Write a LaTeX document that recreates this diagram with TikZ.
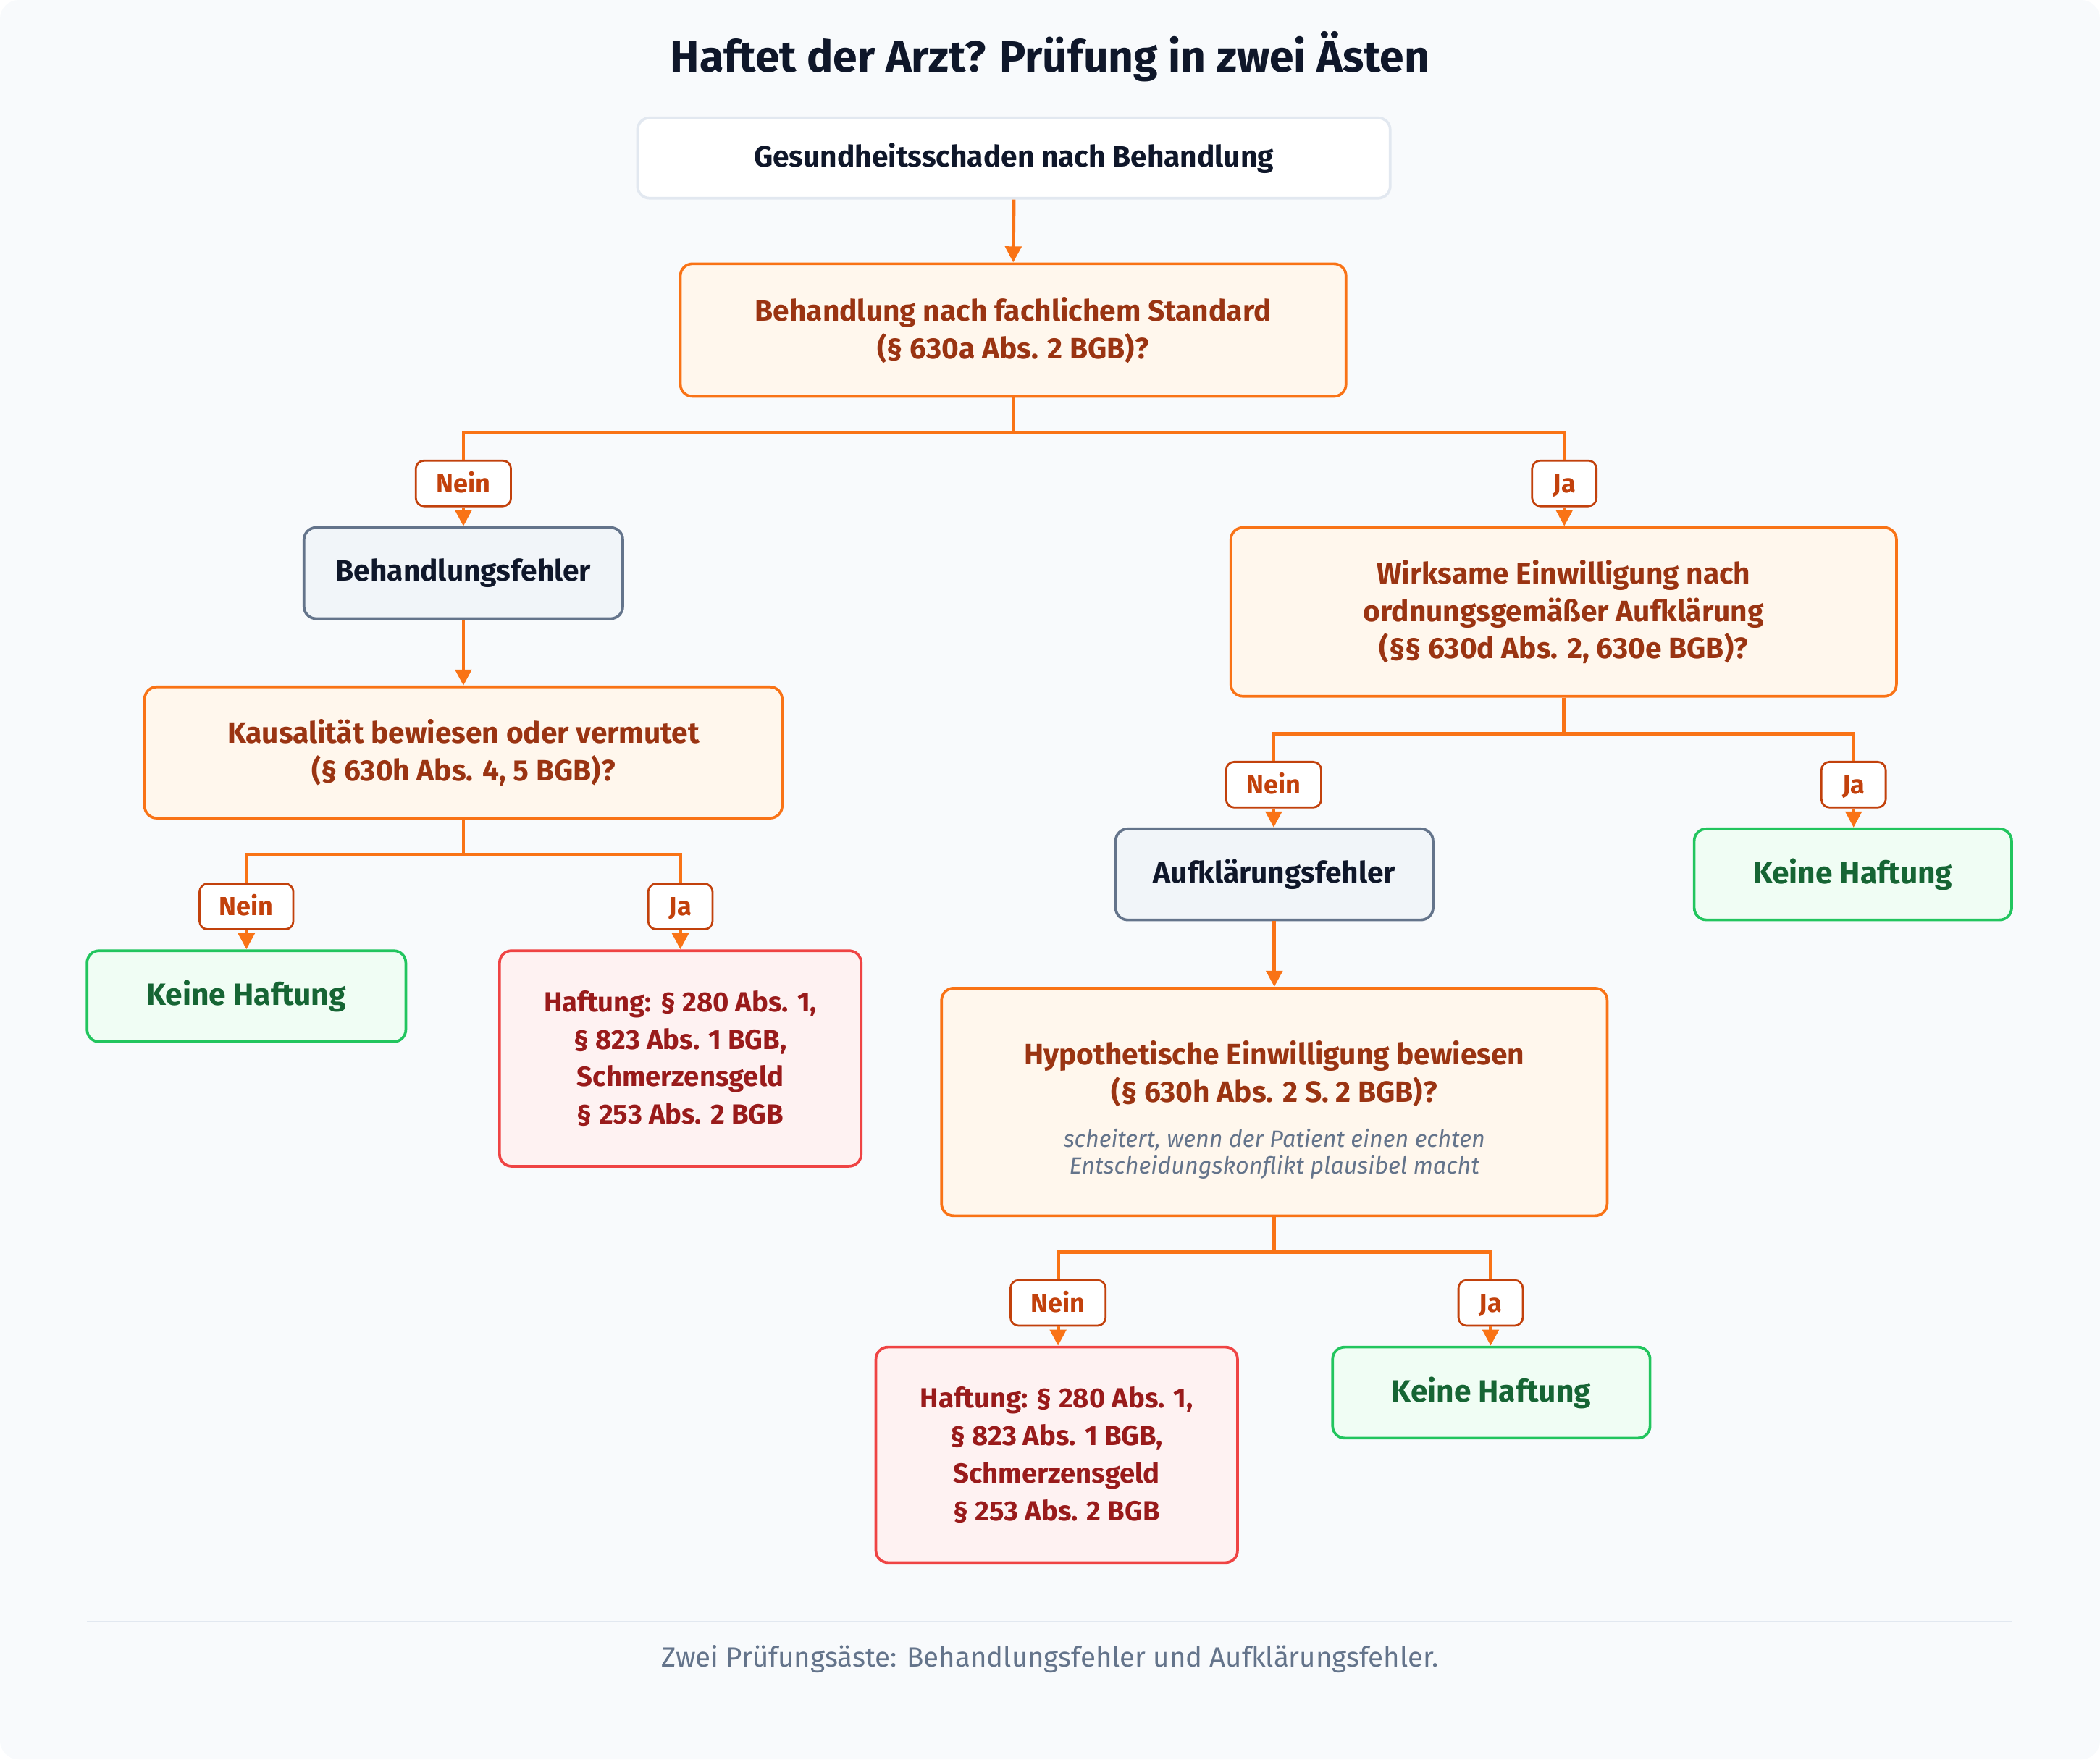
\documentclass[tikz,border=0pt]{standalone}
\usepackage{fontspec}
\setmainfont{Fira Sans}
\usetikzlibrary{arrows.meta,positioning}
\definecolor{bgc}{HTML}{F8FAFC}
\definecolor{titlec}{HTML}{0F172A}
\definecolor{startb}{HTML}{E2E8F0}
\definecolor{qfill}{HTML}{FFF7ED}
\definecolor{qdraw}{HTML}{F97316}
\definecolor{qtext}{HTML}{9A3412}
\definecolor{lbldraw}{HTML}{C2410C}
\definecolor{sfill}{HTML}{F1F5F9}
\definecolor{sdraw}{HTML}{64748B}
\definecolor{gfill}{HTML}{F0FDF4}
\definecolor{gdraw}{HTML}{22C55E}
\definecolor{gtext}{HTML}{166534}
\definecolor{rfill}{HTML}{FEF2F2}
\definecolor{rdraw}{HTML}{EF4444}
\definecolor{rtext}{HTML}{991B1B}
\definecolor{notec}{HTML}{64748B}
\tikzset{
  base/.style={rectangle, rounded corners=9pt, inner sep=0pt, align=center, font=\fontsize{22}{28}\selectfont\bfseries},
  startbox/.style={base, fill=white, draw=startb, line width=2pt, text=titlec},
  qbox/.style={base, fill=qfill, draw=qdraw, line width=2pt, text=qtext},
  sbox/.style={base, fill=sfill, draw=sdraw, line width=2pt, text=titlec},
  gbox/.style={base, fill=gfill, draw=gdraw, line width=2pt, text=gtext, font=\fontsize{23}{28}\selectfont\bfseries},
  rbox/.style={base, fill=rfill, draw=rdraw, line width=2pt, text=rtext, font=\fontsize{20.7}{28}\selectfont\bfseries},
  lbl/.style={rectangle, rounded corners=6pt, inner sep=0pt, fill=white, draw=lbldraw, line width=1.5pt, text=lbldraw, minimum height=34pt, text height=13.5pt, text depth=0pt, font=\fontsize{19.5}{20}\selectfont\bfseries},
  conn/.style={draw=qdraw, line width=2.6pt},
  arr/.style={conn, -{Triangle[width=12pt,length=12pt]}},
}
\begin{document}
\begin{tikzpicture}[x=1pt,y=-1pt]
\useasboundingbox (0,0) rectangle (1568,1314);
\fill[bgc, rounded corners=14pt] (0,0) rectangle (1568,1314);

\node[text=titlec, font=\fontsize{32.8}{36}\selectfont\bfseries] (title) at (784,42) {Haftet der Arzt? Prüfung in zwei Ästen};

\node[startbox, minimum width=562pt, minimum height=60pt] (start) at (757,118) {Gesundheitsschaden nach Behandlung};
\node[qbox, minimum width=497pt, minimum height=99pt] (q1) at (756.5,246.5) {Behandlung nach fachlichem Standard\\(§ 630a Abs. 2 BGB)?};

\node[lbl, minimum width=71pt] (l1n) at (346,361) {Nein};
\node[lbl, minimum width=48pt] (l1j) at (1168,361) {Ja};

\node[sbox, minimum width=238pt, minimum height=68pt] (bf) at (346,428) {Behandlungsfehler};
\node[qbox, minimum width=476pt, minimum height=98pt] (q2) at (346,562) {Kausalität bewiesen oder vermutet\\(§ 630h Abs. 4, 5 BGB)?};

\node[lbl, minimum width=70pt] (l2n) at (184,677) {Nein};
\node[lbl, minimum width=48pt] (l2j) at (508,677) {Ja};

\node[gbox, minimum width=238pt, minimum height=68pt] (kh1) at (184,744) {Keine Haftung};
\node[rbox, minimum width=270pt, minimum height=161pt] (hf1) at (508,790.5) {Haftung: § 280 Abs. 1,\\§ 823 Abs. 1 BGB,\\Schmerzensgeld\\§ 253 Abs. 2 BGB};

\node[qbox, minimum width=497pt, minimum height=126pt] (q3) at (1167.5,457) {Wirksame Einwilligung nach\\ordnungsgemäßer Aufklärung\\(§§ 630d Abs. 2, 630e BGB)?};

\node[lbl, minimum width=71pt] (l3n) at (951,586) {Nein};
\node[lbl, minimum width=48pt] (l3j) at (1384,586) {Ja};

\node[sbox, minimum width=237pt, minimum height=68pt] (af) at (951.5,653) {Aufklärungsfehler};
\node[gbox, minimum width=237pt, minimum height=68pt] (kh2) at (1383.5,653) {Keine Haftung};

\node[qbox, minimum width=497pt, minimum height=170pt] (q4) at (951.5,823) {};
\node[text=qtext, align=center, font=\fontsize{22}{28}\selectfont\bfseries] (q4t) at (951.5,802) {Hypothetische Einwilligung bewiesen\\(§ 630h Abs. 2 S. 2 BGB)?};
\node[text=notec, align=center, font=\fontsize{17.5}{20}\selectfont\itshape] (q4n) at (951.5,862) {scheitert, wenn der Patient einen echten\\Entscheidungskonflikt plausibel macht};

\node[lbl, minimum width=71pt] (l4n) at (790,973) {Nein};
\node[lbl, minimum width=48pt] (l4j) at (1113,973) {Ja};

\node[rbox, minimum width=270pt, minimum height=161pt] (hf2) at (789,1086.5) {Haftung: § 280 Abs. 1,\\§ 823 Abs. 1 BGB,\\Schmerzensgeld\\§ 253 Abs. 2 BGB};
\node[gbox, minimum width=237pt, minimum height=68pt] (kh3) at (1113.5,1040) {Keine Haftung};

% connectors
\draw[arr] (start.south) -- (q1.north);

\draw[conn] (q1.south) -- ++(0,26) -| (l1n.north);
\draw[conn] (q1.south) -- ++(0,26) -| (l1j.north);
\draw[arr] (l1n.south) -- (bf.north);
\draw[arr] (l1j.south) -- (l1j.south |- q3.north);

\draw[arr] (bf.south) -- (q2.north);
\draw[conn] (q2.south) -- ++(0,26) -| (l2n.north);
\draw[conn] (q2.south) -- ++(0,26) -| (l2j.north);
\draw[arr] (l2n.south) -- (kh1.north);
\draw[arr] (l2j.south) -- (hf1.north);

\draw[conn] (q3.south) -- ++(0,27) -| (l3n.north);
\draw[conn] (q3.south) -- ++(0,27) -| (l3j.north);
\draw[arr] (l3n.south) -- (l3n.south |- af.north);
\draw[arr] (l3j.south) -- (l3j.south |- kh2.north);

\draw[arr] (af.south) -- (q4.north);
\draw[conn] (q4.south) -- ++(0,26) -| (l4n.north);
\draw[conn] (q4.south) -- ++(0,26) -| (l4j.north);
\draw[arr] (l4n.south) -- (l4n.south |- hf2.north);
\draw[arr] (l4j.south) -- (l4j.south |- kh3.north);

% footer
\coordinate (fl) at (65,1211);
\coordinate (fr) at (1502,1211);
\draw[startb, line width=1.2pt] (fl) -- (fr);
\node[text=notec, font=\fontsize{20.8}{24}\selectfont] (footer) at (784,1239) {Zwei Prüfungsäste: Behandlungsfehler und Aufklärungsfehler.};
\end{tikzpicture}
\end{document}
